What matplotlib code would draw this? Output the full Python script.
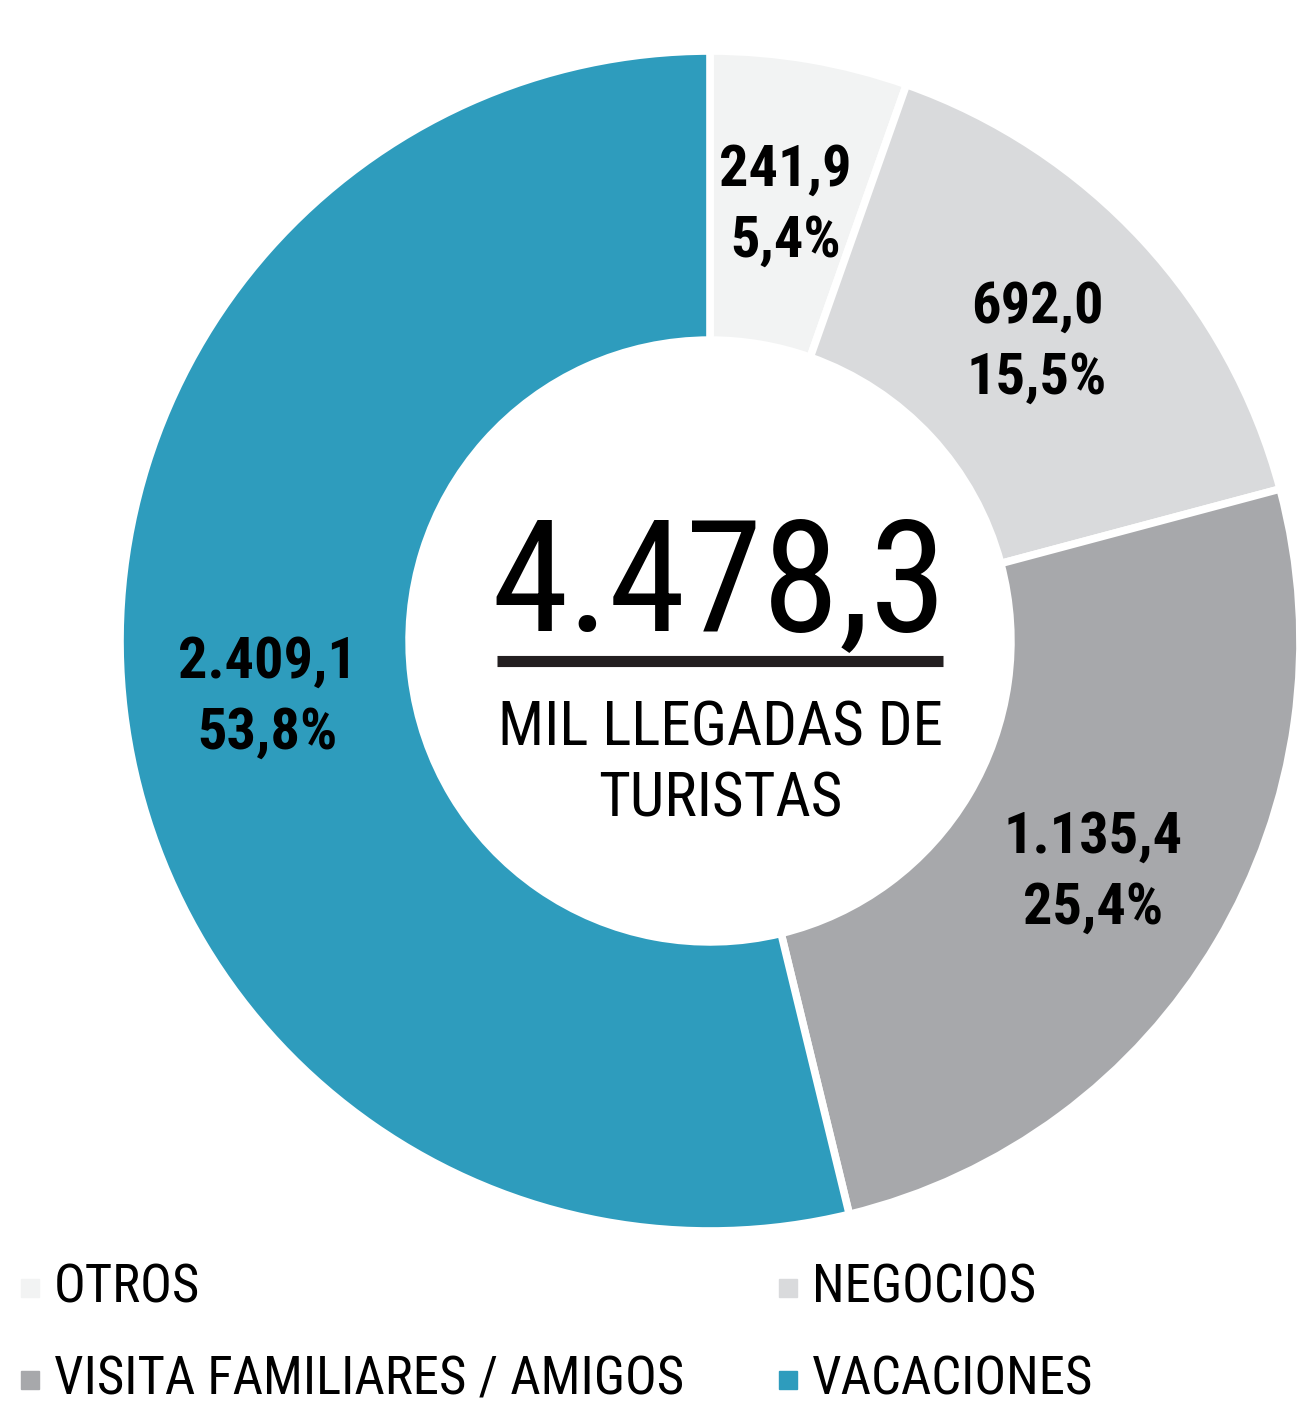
import numpy as np
import matplotlib.pyplot as plt
from matplotlib.patches import Rectangle

plt.rcParams['font.family'] = ['Roboto Condensed', 'Liberation Sans', 'DejaVu Sans']

# ============= datos =============
categorias = ['OTROS', 'NEGOCIOS', 'VISITA FAMILIARES / AMIGOS', 'VACACIONES']
valores = [241.9, 692.0, 1135.4, 2409.1]       # miles de llegadas
colores = ['#f2f3f3', '#d9dadc', '#a7a8ab', '#2e9cbd']
total_txt = '4.478,3'
subtitulo = 'MIL LLEGADAS DE\nTURISTAS'


def fmt_es(v, dec=1):
    s = f'{v:,.{dec}f}'
    return s.replace(',', '#').replace('.', ',').replace('#', '.')


W, H = 1301, 1406
fig = plt.figure(figsize=(W / 100, H / 100), dpi=100)
ax = fig.add_axes([0, 0, 1, 1])
ax.axis('off')

cx, cy, R = 710, H - 641, 590

wedges, _ = ax.pie(valores, colors=colores, startangle=90, counterclock=False,
                   center=(cx, cy), radius=R,
                   wedgeprops=dict(width=R * 0.49, edgecolor='white', linewidth=5.5))
ax.set_xlim(0, W)
ax.set_ylim(0, H)
ax.set_aspect('equal')

total = sum(valores)
for w, v in zip(wedges, valores):
    ang = np.deg2rad((w.theta1 + w.theta2) / 2)
    x = cx + 0.755 * R * np.cos(ang)
    y = cy + 0.755 * R * np.sin(ang) - 4
    ax.text(x, y, f'{fmt_es(v)}\n{fmt_es(v / total * 100)}%', ha='center', va='center',
            fontsize=42, fontweight='bold', linespacing=1.38, color='black')

# texto central
ax.text(cx + 9, H - 588, total_txt, ha='center', va='center', fontsize=112, color='black')
ax.plot([497, 943], [H - 661, H - 661], color='#231f20', linewidth=8, solid_capstyle='butt')
ax.text(cx + 10, H - 764, subtitulo, ha='center', va='center', fontsize=44,
        linespacing=1.3, color='black')

# leyenda
pos = [(21, 1288), (779, 1288), (21, 1380), (779, 1380)]
for (lx, ly), lab, col in zip(pos, categorias, colores):
    ax.add_patch(Rectangle((lx, H - ly - 9), 18, 18, color=col))
    ax.text(lx + 33, H - ly, lab, ha='left', va='center', fontsize=38, color='black')

fig.savefig('out.png', dpi=100, facecolor='white')
